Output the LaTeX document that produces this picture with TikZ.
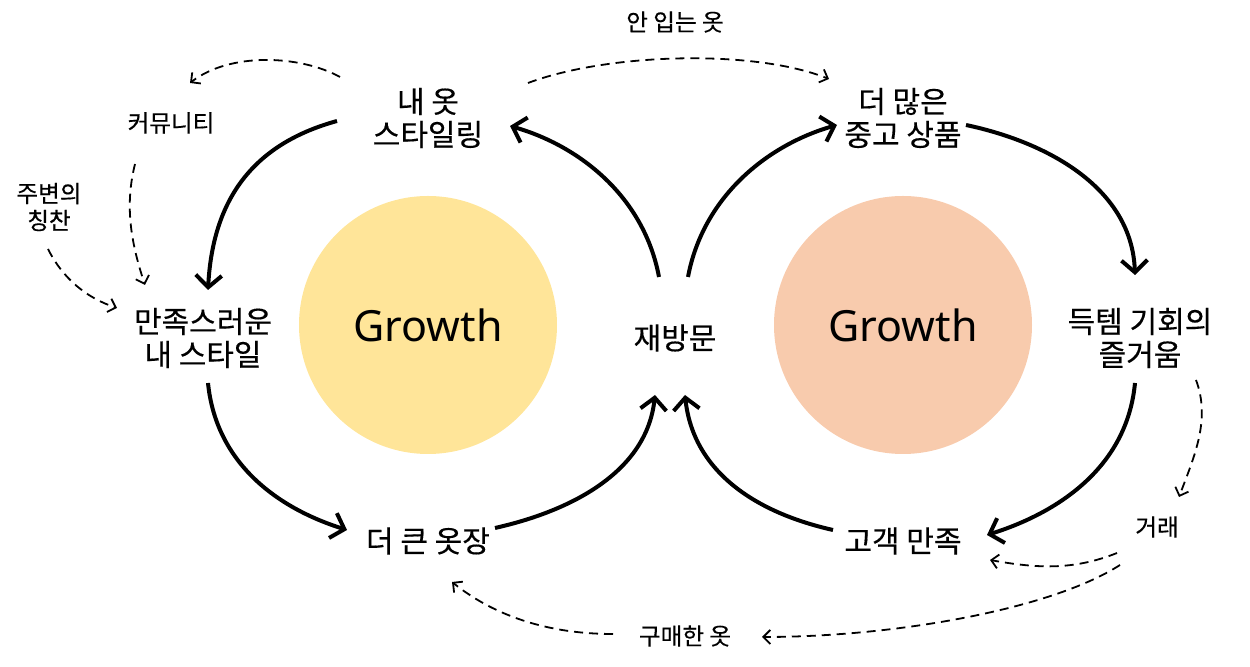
\documentclass[tikz,border=0pt]{standalone}
\usepackage{fontspec}
\usetikzlibrary{arrows.meta,calc}
\newfontfamily\kor[FakeBold=0.4]{Noto Sans CJK KR}
\newfontfamily\lat{Noto Sans}
\definecolor{GrowYellow}{HTML}{FFE599}
\definecolor{GrowPeach}{HTML}{F8CBAD}

\begin{document}
\begin{tikzpicture}[x=0.5pt,y=-0.5pt,
	step label/.style={font=\kor\fontsize{15}{16.5}\selectfont, align=center},
	side label/.style={font=\kor\fontsize{11.8}{13.5}\selectfont, align=center},
	grow circle/.style={circle, minimum size=129pt, inner sep=0pt, font=\lat\fontsize{21.5}{26}\selectfont},
	cycle arrow/.style={line width=2pt, -{Straight Barb[length=6pt,width=13pt]}},
	side arrow/.style={line width=0.9pt, dash pattern=on 4.5pt off 3pt, -{Straight Barb[length=3.5pt,width=7pt]}}]

	\useasboundingbox (0,0) rectangle (1250,667);

	% the two growth circles
	\node[grow circle, fill=GrowYellow] (growL) at (428,325) {Growth};
	\node[grow circle, fill=GrowPeach] (growR) at (903,325) {Growth};

	% main steps
	\node[step label] (sty) at (428,118) {내 옷\\스타일링};
	\node[step label] (used) at (903,118) {더 많은\\중고 상품};
	\node[step label] (sat) at (203,338) {만족스러운\\내 스타일};
	\node[step label] (rev) at (675,338) {재방문};
	\node[step label] (fun) at (1140,338) {득템 기회의\\즐거움};
	\node[step label] (big) at (428,541) {더 큰 옷장};
	\node[step label] (cust) at (903,541) {고객 만족};

	% side notes
	\node[side label] (comm) at (171,123) {커뮤니티};
	\node[side label] (praise) at (49,207) {주변의\\칭찬};
	\node[side label] (unused) at (675,22) {안 입는 옷};
	\node[side label] (trade) at (1157,527) {거래};
	\node[side label] (bought) at (685,636) {구매한 옷};

	% left loop
	\draw[cycle arrow] ($(sty)+(-91,3)$) .. controls +(-80,22) and +(5,-95) .. ($(sat)+(5,-48)$);
	\draw[cycle arrow] ($(sat)+(5,45)$) .. controls +(8,80) and +(-70,-22) .. ($(big)+(-81,-11)$);
	\draw[cycle arrow] ($(big)+(67,-13)$) .. controls +(80,-18) and +(-8,75) .. ($(rev)+(-20,57)$);
	\draw[cycle arrow] ($(rev)+(-16,-61)$) .. controls +(-15,-80) and +(70,20) .. ($(sty)+(82,8)$);

	% right loop
	\draw[cycle arrow] ($(rev)+(13,-61)$) .. controls +(15,-80) and +(-70,20) .. ($(used)+(-66,7)$);
	\draw[cycle arrow] ($(used)+(63,7)$) .. controls +(85,18) and +(-3,-85) .. ($(fun)+(-5,-63)$);
	\draw[cycle arrow] ($(fun)+(-5,45)$) .. controls +(-8,85) and +(70,-22) .. ($(cust)+(84,-6)$);
	\draw[cycle arrow] ($(cust)+(-70,-11)$) .. controls +(-80,-18) and +(8,75) .. ($(rev)+(10,57)$);

	% dashed side effects
	\draw[side arrow] ($(sty)+(-88,-41)$) .. controls +(-40,-22) and +(40,-31) .. ($(comm)+(19,-40)$);
	\draw[side arrow] ($(comm)+(-36,41)$) .. controls +(-10,40) and +(-15,-45) .. ($(sat)+(-58,-53)$);
	\draw[side arrow] ($(praise)+(-1,42)$) .. controls +(15,30) and +(-30,-10) .. ($(sat)+(-86,-30)$);
	\draw[side arrow] ($(sty)+(100,-35)$) .. controls +(80,-30) and +(-75,-30) .. ($(used)+(-74,-39)$);
	\draw[side arrow] ($(fun)+(56,42)$) .. controls +(15,40) and +(15,-40) .. ($(trade)+(22,-30)$);
	\draw[side arrow] ($(trade)+(-40,26)$) .. controls +(-45,18) and +(45,8) .. ($(cust)+(87,19)$);
	\draw[side arrow] ($(trade)+(-37,38)$) .. controls +(-70,45) and +(130,0) .. ($(bought)+(77,1)$);
	\draw[side arrow] ($(bought)+(-72,-2)$) .. controls +(-75,0) and +(35,28) .. ($(big)+(24,41)$);

\end{tikzpicture}
\end{document}
